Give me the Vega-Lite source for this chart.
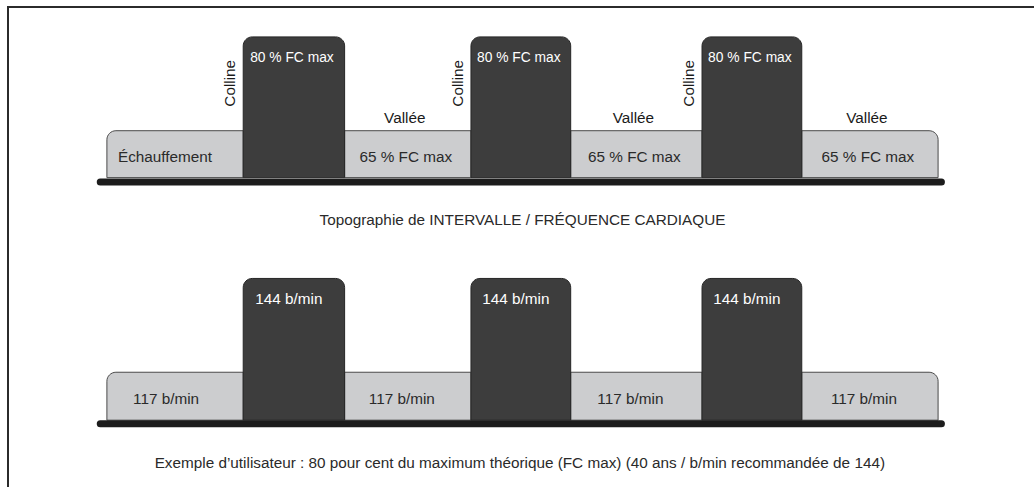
{
  "$schema": "https://vega.github.io/schema/vega-lite/v6.json",
  "width": 1034,
  "height": 487,
  "autosize": {"type": "fit", "contains": "padding"},
  "padding": 0,
  "background": "white",
  "config": {
    "view": {"stroke": null},
    "text": {"font": "Liberation Sans, Arial, sans-serif", "fontSize": 15.3}
  },
  "data": {
    "values": [
      {"seg": "warmup", "start": 0, "end": 4.1, "pct": 65, "bpm": 117, "pctLabel": "Échauffement", "bpmLabel": "117 b/min", "tag": ""},
      {"seg": "hill", "start": 4.1, "end": 7.15, "pct": 80, "bpm": 144, "pctLabel": "80 % FC max", "bpmLabel": "144 b/min", "tag": "Colline"},
      {"seg": "valley", "start": 7.15, "end": 10.95, "pct": 65, "bpm": 117, "pctLabel": "65 % FC max", "bpmLabel": "117 b/min", "tag": "Vallée"},
      {"seg": "hill", "start": 10.95, "end": 13.95, "pct": 80, "bpm": 144, "pctLabel": "80 % FC max", "bpmLabel": "144 b/min", "tag": "Colline"},
      {"seg": "valley", "start": 13.95, "end": 17.9, "pct": 65, "bpm": 117, "pctLabel": "65 % FC max", "bpmLabel": "117 b/min", "tag": "Vallée"},
      {"seg": "hill", "start": 17.9, "end": 20.9, "pct": 80, "bpm": 144, "pctLabel": "80 % FC max", "bpmLabel": "144 b/min", "tag": "Colline"},
      {"seg": "valley", "start": 20.9, "end": 25, "pct": 65, "bpm": 117, "pctLabel": "65 % FC max", "bpmLabel": "117 b/min", "tag": "Vallée"}
    ]
  },
  "resolve": {"scale": {"y": "independent"}},
  "layer": [
    {
      "layer": [
        {
          "data": {"values": [{"frame": 1}]},
          "mark": {"type": "rule", "color": "#2b2b2b", "strokeWidth": 2},
          "encoding": {"x": {"value": 8}, "y": {"value": 7}, "y2": {"value": 487}}
        },
        {
          "data": {"values": [{"frame": 1}]},
          "mark": {"type": "rule", "color": "#2b2b2b", "strokeWidth": 2},
          "encoding": {"y": {"value": 7}, "x": {"value": 7}, "x2": {"value": 1034}}
        },
        {
          "transform": [{"filter": "datum.seg != 'hill'"}],
          "mark": {
            "type": "rect",
            "fill": "#cccdcf",
            "stroke": "#4a4a4a",
            "strokeWidth": 1,
            "cornerRadiusTopLeft": {"expr": "datum.start == 0 ? 9 : 0"},
            "cornerRadiusTopRight": {"expr": "datum.end == 25 ? 9 : 0"}
          },
          "encoding": {
            "x": {"field": "start", "type": "quantitative", "scale": {"domain": [-3.2151, 27.8546], "nice": false, "zero": false}, "axis": null},
            "x2": {"field": "end"},
            "y": {"field": "pct", "type": "quantitative", "scale": {"domain": [8.19, 85.9], "nice": false, "zero": false}, "axis": null},
            "y2": {"datum": 57.5}
          }
        },
        {
          "transform": [{"filter": "datum.seg == 'hill'"}],
          "mark": {"type": "rect", "fill": "#3d3d3d", "stroke": "#262626", "strokeWidth": 1, "cornerRadiusTopLeft": 9, "cornerRadiusTopRight": 9},
          "encoding": {
            "x": {"field": "start", "type": "quantitative"},
            "x2": {"field": "end"},
            "y": {"field": "pct", "type": "quantitative"},
            "y2": {"datum": 57.5}
          }
        },
        {
          "data": {"values": [{"base": 1}]},
          "mark": {"type": "rule", "color": "#1c1c1c", "strokeWidth": 7, "strokeCap": "round"},
          "encoding": {"x": {"datum": -0.2}, "x2": {"datum": 25.1}, "y": {"datum": 56.78}}
        },
        {
          "transform": [{"filter": "datum.seg == 'hill'"}, {"fold": ["start", "end"]}],
          "mark": {"type": "text", "color": "white", "align": "center", "baseline": "middle", "dy": 21, "dx": -2, "fontSize": 13.8},
          "encoding": {
            "x": {"field": "value", "aggregate": "mean", "type": "quantitative"},
            "y": {"field": "pct", "type": "quantitative"},
            "detail": {"field": "start", "type": "quantitative"},
            "text": {"field": "pctLabel"}
          }
        },
        {
          "transform": [{"filter": "datum.seg == 'valley'"}, {"fold": ["start", "end"]}],
          "mark": {"type": "text", "color": "#2a2a2a", "align": "center", "baseline": "middle", "dy": 26.5, "dx": -2},
          "encoding": {
            "x": {"field": "value", "aggregate": "mean", "type": "quantitative"},
            "y": {"field": "pct", "type": "quantitative"},
            "detail": {"field": "start", "type": "quantitative"},
            "text": {"field": "pctLabel"}
          }
        },
        {
          "transform": [{"filter": "datum.seg == 'warmup'"}, {"fold": ["start", "end"]}],
          "mark": {"type": "text", "color": "#2a2a2a", "align": "center", "baseline": "middle", "dy": 26.5, "dx": -10},
          "encoding": {
            "x": {"field": "value", "aggregate": "mean", "type": "quantitative"},
            "y": {"field": "pct", "type": "quantitative"},
            "detail": {"field": "start", "type": "quantitative"},
            "text": {"field": "pctLabel"}
          }
        },
        {
          "transform": [{"filter": "datum.seg == 'valley'"}, {"fold": ["start", "end"]}],
          "mark": {"type": "text", "color": "#1a1a1a", "align": "center", "baseline": "alphabetic", "dy": -8, "dx": -3},
          "encoding": {
            "x": {"field": "value", "aggregate": "mean", "type": "quantitative"},
            "y": {"field": "pct", "type": "quantitative"},
            "detail": {"field": "start", "type": "quantitative"},
            "text": {"field": "tag"}
          }
        },
        {
          "transform": [{"filter": "datum.seg == 'hill'"}],
          "mark": {"type": "text", "color": "#1a1a1a", "angle": 270, "align": "right", "baseline": "bottom", "dx": -23, "dy": -5},
          "encoding": {
            "x": {"field": "start", "type": "quantitative"},
            "y": {"field": "pct", "type": "quantitative"},
            "text": {"field": "tag"}
          }
        },
        {
          "data": {"values": [{"t": "Topographie de INTERVALLE / FRÉQUENCE CARDIAQUE"}]},
          "mark": {"type": "text", "color": "#2a2a2a", "align": "center", "baseline": "middle"},
          "encoding": {"x": {"datum": 12.5}, "y": {"datum": 50.8}, "text": {"field": "t"}}
        }
      ]
    },
    {
      "layer": [
        {
          "transform": [{"filter": "datum.seg != 'hill'"}],
          "mark": {
            "type": "rect",
            "fill": "#cccdcf",
            "stroke": "#4a4a4a",
            "strokeWidth": 1,
            "cornerRadiusTopLeft": {"expr": "datum.start == 0 ? 9 : 0"},
            "cornerRadiusTopRight": {"expr": "datum.end == 25 ? 9 : 0"}
          },
          "encoding": {
            "x": {"field": "start", "type": "quantitative"},
            "x2": {"field": "end"},
            "y": {"field": "bpm", "type": "quantitative", "scale": {"domain": [84.26, 224.14], "nice": false, "zero": false}, "axis": null},
            "y2": {"datum": 103.21}
          }
        },
        {
          "transform": [{"filter": "datum.seg == 'hill'"}],
          "mark": {"type": "rect", "fill": "#3d3d3d", "stroke": "#262626", "strokeWidth": 1, "cornerRadiusTopLeft": 9, "cornerRadiusTopRight": 9},
          "encoding": {
            "x": {"field": "start", "type": "quantitative"},
            "x2": {"field": "end"},
            "y": {"field": "bpm", "type": "quantitative"},
            "y2": {"datum": 103.21}
          }
        },
        {
          "data": {"values": [{"base": 1}]},
          "mark": {"type": "rule", "color": "#1c1c1c", "strokeWidth": 7, "strokeCap": "round"},
          "encoding": {"x": {"datum": -0.2}, "x2": {"datum": 25.1}, "y": {"datum": 102.21}}
        },
        {
          "transform": [{"filter": "datum.seg == 'hill'"}, {"fold": ["start", "end"]}],
          "mark": {"type": "text", "color": "white", "align": "center", "baseline": "middle", "dy": 21, "dx": -5},
          "encoding": {
            "x": {"field": "value", "aggregate": "mean", "type": "quantitative"},
            "y": {"field": "bpm", "type": "quantitative"},
            "detail": {"field": "start", "type": "quantitative"},
            "text": {"field": "bpmLabel"}
          }
        },
        {
          "transform": [{"filter": "datum.seg == 'valley'"}, {"fold": ["start", "end"]}],
          "mark": {"type": "text", "color": "#2a2a2a", "align": "center", "baseline": "middle", "dy": 27, "dx": -6},
          "encoding": {
            "x": {"field": "value", "aggregate": "mean", "type": "quantitative"},
            "y": {"field": "bpm", "type": "quantitative"},
            "detail": {"field": "start", "type": "quantitative"},
            "text": {"field": "bpmLabel"}
          }
        },
        {
          "transform": [{"filter": "datum.seg == 'warmup'"}, {"fold": ["start", "end"]}],
          "mark": {"type": "text", "color": "#2a2a2a", "align": "center", "baseline": "middle", "dy": 27, "dx": -9},
          "encoding": {
            "x": {"field": "value", "aggregate": "mean", "type": "quantitative"},
            "y": {"field": "bpm", "type": "quantitative"},
            "detail": {"field": "start", "type": "quantitative"},
            "text": {"field": "bpmLabel"}
          }
        },
        {
          "data": {"values": [{"t": "Exemple d’utilisateur : 80 pour cent du maximum théorique (FC max) (40 ans / b/min recommandée de 144)"}]},
          "mark": {"type": "text", "color": "#2a2a2a", "align": "center", "baseline": "middle"},
          "encoding": {"x": {"datum": 12.42}, "y": {"datum": 90.86}, "text": {"field": "t"}}
        }
      ]
    }
  ]
}
